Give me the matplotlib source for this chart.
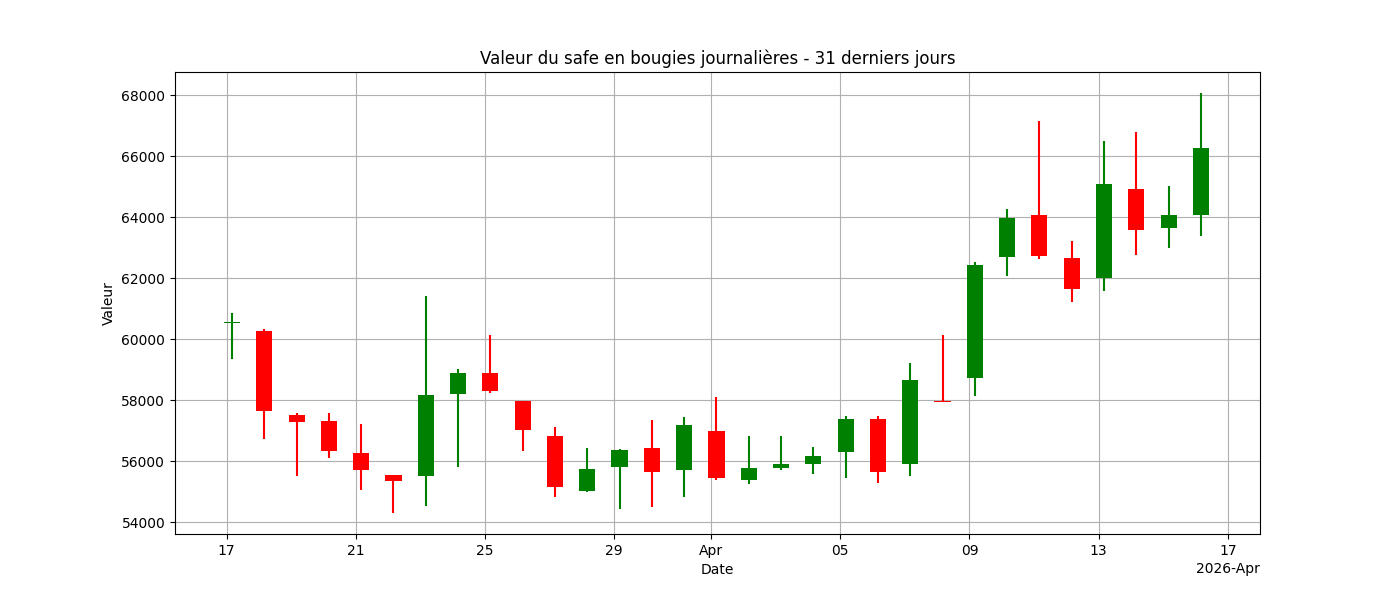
import matplotlib
matplotlib.use("Agg")
import matplotlib.pyplot as plt
import matplotlib.dates as mdates
import numpy as np
import datetime as dt

start = dt.datetime(2026, 3, 17, 4, 0)
dates = [start + dt.timedelta(days=i) for i in range(31)]
opens = [60530, 60263, 57508, 57312, 56262, 55541, 55519, 58208, 58886, 57967,
         56820, 55027, 55814, 56426, 55716, 56984, 55388, 55781, 55913, 56295,
         57377, 55913, 57960, 58733, 62700, 64066, 62656, 62000, 64918, 63652, 64077]
closes = [60565, 57650, 57289, 56338, 55716, 55355, 58164, 58886, 58306, 57027,
          55158, 55738, 56361, 55640, 57181, 55432, 55771, 55902, 56164, 57377,
          55629, 58656, 57950, 62427, 63979, 62733, 61651, 65082, 63586, 64066, 66264]
highs = [60843, 60328, 57574, 57574, 57213, 55541, 61410, 59016, 60132, 57967,
         57115, 56426, 56394, 57345, 57443, 58099, 56820, 56820, 56459, 57476,
         57476, 59214, 60132, 62525, 64264, 67148, 63214, 66493, 66787, 65017, 68066]
lows = [59356, 56732, 55519, 56109, 55049, 54306, 54536, 55803, 58241, 56338,
        54830, 54984, 54437, 54503, 54830, 55388, 55256, 55716, 55584, 55453,
        55289, 55519, 57945, 58142, 62076, 62634, 61224, 61585, 62765, 62995, 63389]

fig, ax = plt.subplots(figsize=(14, 6), dpi=100)
x = mdates.date2num(dates)
o = np.array(opens); c = np.array(closes)
cols = ['green' if cc >= oo else 'red' for oo, cc in zip(o, c)]
ax.vlines(x, lows, highs, colors=cols, linewidth=1.5, zorder=2)
ax.bar(x, np.abs(c - o), bottom=np.minimum(o, c), width=0.5, color=cols, zorder=3)

ax.set_xlim(x[0] - 1.765, x[0] + 31.83)
ax.set_ylim(53607, 68755)
loc = mdates.AutoDateLocator()
ax.xaxis.set_major_locator(loc)
ax.xaxis.set_major_formatter(mdates.ConciseDateFormatter(loc))
ax.grid(True, zorder=0)
ax.set_axisbelow(True)
ax.set_title("Valeur du safe en bougies journalières - 31 derniers jours")
ax.set_xlabel("Date")
ax.set_ylabel("Valeur")
fig.savefig("out.png")
